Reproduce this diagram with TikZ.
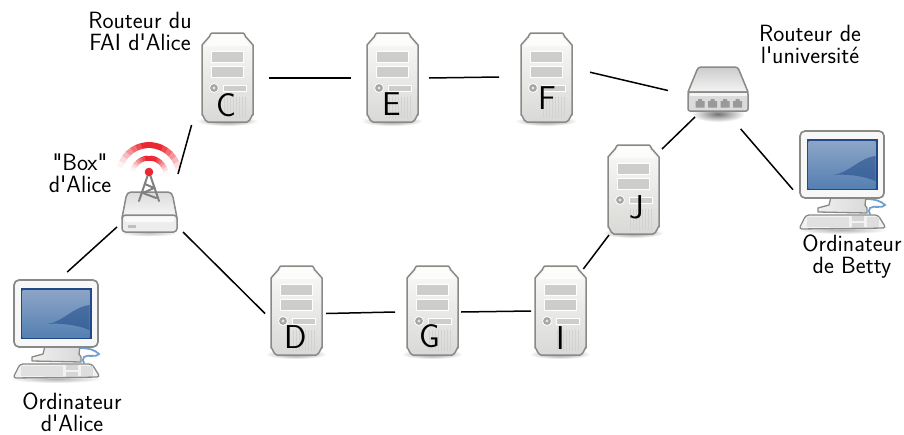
\documentclass[tikz,border=0pt]{standalone}
\usepackage{fontspec}
\newfontfamily\labfont{Latin Modern Sans}
\usetikzlibrary{calc}
\definecolor{edgegray}{RGB}{136,138,133}
\definecolor{bodylight}{RGB}{250,250,248}
\definecolor{bodydark}{RGB}{200,201,197}
\definecolor{baygray}{RGB}{205,206,203}
\definecolor{screenblue}{RGB}{32,74,135}
\definecolor{screenmid}{RGB}{85,128,178}
\definecolor{screenlight}{RGB}{140,165,198}
\definecolor{cableblue}{RGB}{114,159,207}
\definecolor{signalred}{RGB}{235,40,50}
\tikzset{
  x=1pt,y=-1pt,
  hot/.style={inner sep=0,outer sep=0,rectangle},
  link/.style={draw=black,line width=1.5pt},
  lab/.style={font=\fontsize{23.5}{22}\selectfont\labfont,align=center,inner sep=0},
  letter/.style={font=\fontsize{33}{36}\selectfont\labfont,inner sep=0,text=black},
  outline/.style={draw=edgegray,line width=1.5pt,line join=round},
  pics/server/.style={code={
    \shade[inner color=black!45,outer color=white,draw=none] (25,88) ellipse (31 and 5);
    \path[outline,left color=bodylight,right color=bodydark!70!white,shading angle=0]
      (10,0) -- (41,0) to[out=0,in=-90] (44,4) -- (51,12) -- (51,82) to[out=90,in=0] (45,89) -- (6,89)
      to[out=180,in=90] (0,82) -- (0,12) -- (7,4) to[out=-90,in=180] (10,0) -- cycle;
    \path[fill=white,opacity=.75] (11,2) -- (40,2) -- (48,13) -- (3,13) -- cycle;
    \path[fill=baygray,draw=white,line width=.8pt] (9,18) rectangle (41,29);
    \path[fill=baygray,draw=white,line width=.8pt] (9,33) rectangle (41,44);
    \path[fill=baygray,draw=white,line width=.8pt] (21,52) rectangle (44,58);
    \path[fill=gray!70,draw=white,line width=.8pt] (12,55) circle (4.5);
    \path[fill=gray!20] (12,55) circle (1.7);
    \foreach \vx in {22,25,...,43} {\draw[gray!35,line width=1pt] (\vx,64) -- (\vx,85);}
  }},
  pics/computer/.style={code={
    \shade[inner color=black!30,outer color=white] (43,99) ellipse (46 and 4);
    \draw[cableblue,line width=1.8pt,line cap=round] (66,68) .. controls (76,68) and (82,70) .. (86,74)
      .. controls (84,78) and (74,74) .. (71,77) .. controls (69,79) and (70,81) .. (71,83);
    \path[outline,left color=gray!12,right color=gray!30,line width=1.3pt]
      (32,66) -- (67,66) -- (66,74) -- (68,77) -- (68,82) -- (19,81) -- (19,77) -- (30,74) -- cycle;
    \path[outline,fill=gray!6,rounded corners=5pt,line width=1.7pt] (1,0) rectangle (85,67);
    \path[fill=screenblue] (7.5,8) rectangle (78.5,59);
    \path[top color=screenlight,bottom color=screenmid] (9.5,10) rectangle (76.5,57);
    \path[fill=screenblue,opacity=.55] (34,44) .. controls (50,42) and (60,27) .. (76.5,25) -- (76.5,50) .. controls (62,44) and (45,43) .. (34,44) -- cycle;
    \path[outline,fill=gray!10,line width=1.3pt,rounded corners=3pt]
      (7,84) -- (79,84) -- (87,97) -- (0,98) -- cycle;
    \path[fill=gray!24] (8,86) rectangle (50,96);
    \path[fill=gray!32] (53,85) rectangle (65,90);
    \path[fill=gray!32] (53,92) rectangle (65,96);
    \path[fill=gray!26] (68,86) rectangle (80,96);
  }},
  pics/boxicon/.style={code={
    \shade[inner color=black!25,outer color=white] (149,233) ellipse (30 and 3.5);
    \path[outline,top color=gray!28,bottom color=gray!5]
      (131,192) -- (168,192) .. controls (171,192) and (172,194) .. (173,197) -- (177,218) -- (122,218) -- (126,197) .. controls (127,194) and (128,192) .. (131,192) -- cycle;
    \path[outline,fill=gray!14,rounded corners=3.5pt] (122,215) rectangle (177,232);
    \path[fill=gray!4,rounded corners=3pt] (124,216.5) rectangle (175,222);
    \path[fill=gray!50] (128,224.5) rectangle (136,227.5);
    \foreach \ang/\mix in {10/5,20/16,30/32,40/50,50/68,60/85,70/100,80/100,90/100,100/100,110/85,120/68,130/50,140/32,150/16,160/5}{
      \draw[signalred!\mix!white,line width=6pt] ($(149,175)+({\ang-5.5}:30 and -30)$) arc[start angle=\ang-5.5,end angle=\ang+5.5,radius=30,y radius=-30];
      \draw[signalred!\mix!white,line width=5pt] ($(149,175)+({\ang-5.5}:17 and -17)$) arc[start angle=\ang-5.5,end angle=\ang+5.5,radius=17,y radius=-17];
    }
    \draw[gray,line width=2pt,line cap=round] (147.5,176) -- (139,201) (150.5,176) -- (159,201)
      (145,184) -- (154,188) -- (143,193) -- (156,198);
    \path[fill=signalred] (149,172) circle (4.3);
  }},
  pics/routericon/.style={code={
    \shade[inner color=black!55,outer color=white] (718,114) ellipse (27 and 8);
    \path[outline,top color=gray!40,bottom color=gray!8]
      (701,67) -- (735,67) .. controls (737,67) and (738,68) .. (739,70) -- (748,92) -- (688,92) -- (697,70) .. controls (698,68) and (699,67) .. (701,67) -- cycle;
    \path[outline,fill=gray!28,rounded corners=2pt] (688,92) rectangle (748,111);
    \path[fill=gray!8] (689.5,93) rectangle (746.5,96);
    \foreach \px in {700,712.5,725,737.5} {
      \path[fill=gray!80] (\px-4.5,101) -- (\px-2,101) -- (\px-2,99) -- (\px+2,99) -- (\px+2,101) -- (\px+4.5,101) -- (\px+4.5,107.5) -- (\px-4.5,107.5) -- cycle;
    }
  }},
}
\begin{document}
\begin{tikzpicture}
\useasboundingbox (0,0) rectangle (904,434);
\pic at (202,33) {server};
\pic at (367,33) {server};
\pic at (521,33) {server};
\pic at (608,145) {server};
\pic at (271,266) {server};
\pic at (407,266) {server};
\pic at (535,266) {server};
\pic at (13,280) {computer};
\pic at (799,131) {computer};
\pic at (0,0) {boxicon};
\pic at (0,0) {routericon};
\node[hot,minimum width=84pt,minimum height=94pt] (C) at (227,78) {};
\node[hot,minimum width=78pt,minimum height=94pt] (E) at (390,78) {};
\node[hot,minimum width=91pt,minimum height=94pt] (F) at (544.5,77) {};
\node[hot,minimum width=53pt,minimum height=86pt] (J) at (635.5,192) {};
\node[hot,minimum width=61pt,minimum height=84pt] (D) at (295.5,313.5) {};
\node[hot,minimum width=66pt,minimum height=84pt] (G) at (428,312) {};
\node[hot,minimum width=60pt,minimum height=84pt] (I) at (561,311) {};
\node[hot,minimum width=66pt,minimum height=58pt] (box) at (150,203) {};
\node[hot,minimum width=77pt,minimum height=57pt] (router) at (706.5,88.5) {};
\node[hot,minimum width=90pt,minimum height=106pt] (alice) at (55,325) {};
\node[hot,minimum width=94pt,minimum height=100pt] (betty) at (840,178) {};
\draw[link] (alice.77.2) -- (box.216);
\draw[link] (box.46) -- (C.233.3);
\draw[link] (box.south east) -- (D.west);
\draw[link] (C.east) -- (E.west);
\draw[link] (E.east) -- (F.west);
\draw[link] (F.6.3) -- (router.183.7);
\draw[link] (router.248) -- (J.north east);
\draw[link] (J.south west) -- (I.62.4);
\draw[link] (I.west) -- (G.east);
\draw[link] (G.west) -- (D.east);
\draw[link,shorten <=15.75pt] (router.310.5) -- (betty.194.3);
\node[letter] (lC) at (226,105) {C};
\node[letter] (lE) at (392,104) {E};
\node[letter] (lF) at (547,98) {F};
\node[letter] (lJ) at (637,207) {J};
\node[letter] (lD) at (296,337) {D};
\node[letter] (lG) at (430,336) {G};
\node[letter] (lI) at (561,338) {I};
\node[lab] (t1) at (140,31) {Routeur du\\FAI d'Alice};
\node[lab] (t2) at (80,173) {"Box"\\d'Alice};
\node[lab] (t3) at (72,412.5) {Ordinateur\\d'Alice};
\node[lab] (t4) at (810,44) {Routeur de\\l'université};
\node[lab] (t5) at (852,257) {Ordinateur\\de Betty};
\end{tikzpicture}
\end{document}
